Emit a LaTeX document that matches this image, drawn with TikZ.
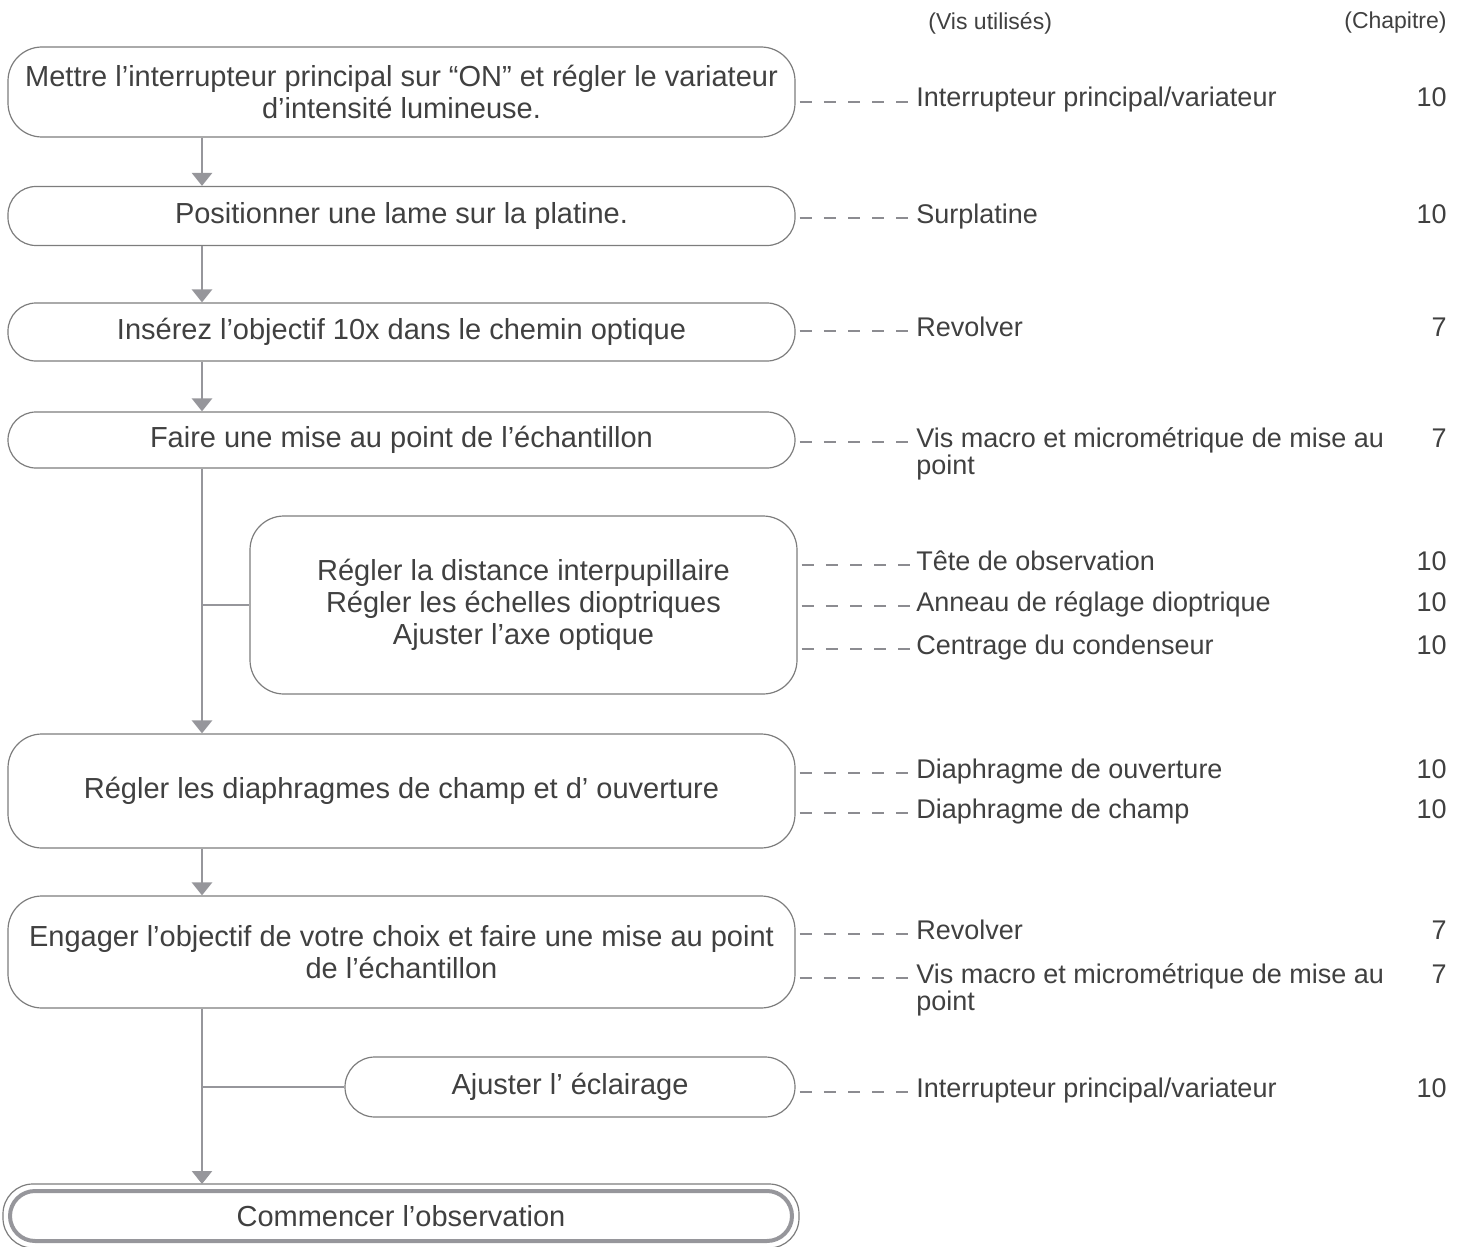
\documentclass[tikz,border=0pt]{standalone}
\usepackage{fontspec}
\setmainfont{Liberation Sans}
\usepackage{tikz}
\usetikzlibrary{arrows.meta,positioning,calc}
\definecolor{mytext}{RGB}{64,64,64}
\definecolor{myedge}{RGB}{125,125,125}
\definecolor{myline}{RGB}{150,150,155}
\definecolor{mydash}{RGB}{140,140,145}
\newcommand{\twolines}[2]{\begin{tabular}[t]{@{}l@{}}#1\\#2\end{tabular}}

\begin{document}
\begin{tikzpicture}[x=0.5pt, y=-0.5pt, text=mytext,
  font=\fontsize{14.5}{16}\selectfont,
  stepbox/.style={draw=myedge, line width=0.6pt, rounded corners=14pt,
                  align=center, inner sep=0pt, minimum width=393.5pt},
  flow/.style={myline, line width=1.3pt, -{Triangle[width=10pt,length=6.5pt]}},
  branch/.style={myline, line width=1.3pt},
  dashln/.style={mydash, line width=1.1pt, dash pattern=on 6pt off 6.1pt},
  tool/.style={anchor=base west, inner xsep=3pt, inner ysep=0pt,
               font=\fontsize{13.5}{12.5}\selectfont},
  chap/.style={anchor=base east, inner sep=0pt,
               font=\fontsize{13.5}{12.5}\selectfont}]
  \useasboundingbox (0,0) rectangle (1463,1247);

  % column heads
  \node[anchor=west, inner sep=2pt, font=\fontsize{11.5}{13}\selectfont]
    (headvis) at (924,23) {(Vis utilisés)};
  \node[anchor=east, inner sep=0pt, font=\fontsize{11.5}{13}\selectfont]
    (headchap) at (1447,23) {(Chapitre)};

  % steps
  \node[stepbox, minimum height=45pt, rounded corners=17pt] (b1) at (401.5,92)
    {Mettre l’interrupteur principal sur “ON” et régler le variateur\\d’intensité lumineuse.};
  \node[stepbox, minimum height=29.5pt] (b2) at (401.5,216)
    {Positionner une lame sur la platine.};
  \node[stepbox, minimum height=29pt] (b3) at (401.5,332)
    {Insérez l’objectif 10x dans le chemin optique};
  \node[stepbox, minimum height=28pt] (b4) at (401.5,440)
    {Faire une mise au point de l’échantillon};
  \node[stepbox, minimum width=273.5pt, minimum height=89pt, rounded corners=17pt]
    (b5) at (523.5,605)
    {Régler la distance interpupillaire\\Régler les échelles dioptriques\\Ajuster l’axe optique};
  \node[stepbox, minimum height=57pt, rounded corners=17pt] (b6) at (401.5,791)
    {Régler les diaphragmes de champ et d’ ouverture};
  \node[stepbox, minimum height=56pt, rounded corners=17pt] (b7) at (401.5,952)
    {Engager l’objectif de votre choix et faire une mise au point\\de l’échantillon};
  \node[stepbox, minimum width=225pt, minimum height=30pt, rounded corners=15pt]
    (b8) at (570,1087) {Ajuster l’ éclairage};
  \node[stepbox, draw=myline, line width=2pt, minimum width=391pt,
        minimum height=25pt, rounded corners=12.5pt]
    (b9) at (401,1216) {Commencer l’observation};
  \draw[myedge, line width=0.6pt, rounded corners=15pt]
    ([shift={(-2.5pt,2.5pt)}]b9.north west) rectangle ([shift={(2.5pt,-2.5pt)}]b9.south east);

  % main line
  \coordinate (tr) at (202,0);
  \draw[flow] (b1.south -| tr) -- (b2.north -| tr);
  \draw[flow] (b2.south -| tr) -- (b3.north -| tr);
  \draw[flow] (b3.south -| tr) -- (b4.north -| tr);
  \draw[flow] (b4.south -| tr) -- (b6.north -| tr);
  \draw[branch] (tr |- b5.west) -- (b5.west);
  \draw[flow] (b6.south -| tr) -- (b7.north -| tr);
  \draw[flow] (b7.south -| tr) -- ($(b9.north -| tr)+(0,-5)$);
  \draw[branch] (tr |- b8.west) -- (b8.west);

  % screws and chapters
  \foreach \i/\b/\y/\txt/\ch in {
      1/b1/107/{Interrupteur principal/variateur}/10,
      2/b2/223/Surplatine/10,
      3/b3/336/Revolver/7,
      4/b4/447/{\twolines{Vis macro et micrométrique de mise au}{point}}/7,
      5/b5/570/Tête de observation/10,
      6/b5/611/Anneau de réglage dioptrique/10,
      7/b5/654/Centrage du condenseur/10,
      8/b6/778/Diaphragme de ouverture/10,
      9/b6/818/Diaphragme de champ/10,
      10/b7/939/Revolver/7,
      11/b7/983/{\twolines{Vis macro et micrométrique de mise au}{point}}/7,
      12/b8/1097/{Interrupteur principal/variateur}/10}{
    \node[tool] (tool\i) at (910,\y) {\txt};
    \node[chap] (chap\i) at (1447,\y) {\ch};
    \draw[dashln] ($(\b.east |- tool\i.mid west)+(4,0)$) -- (tool\i.mid west);
  }
\end{tikzpicture}
\end{document}
